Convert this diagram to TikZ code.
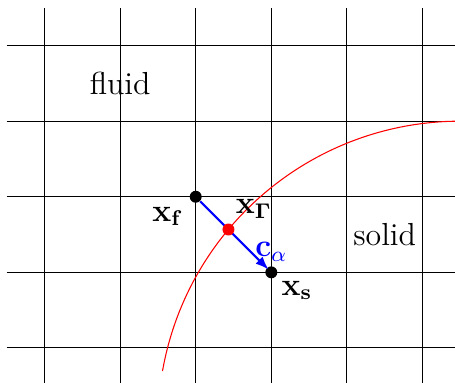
\documentclass[tikz,border=0pt]{standalone}
\usetikzlibrary{positioning,arrows.meta}
\begin{document}
\begin{tikzpicture}[x=1cm, y=1cm,
	dot/.style={shape=circle, fill, inner sep=0pt, minimum size=4.5pt},
	lbl/.style={font=\large}]
	\useasboundingbox (-0.589,-0.463) rectangle (5.430,4.603);
	% Grid:
	\foreach \i in {0,...,5} \draw (\i,-0.5) -- (\i,4.5);
	\foreach \j in {0,...,4} \draw (-0.5,\j) -- (5.5,\j);
	% Interface:
	\draw[red] (5.5,-1) ++(170:4) arc (170:90:4);
	% Points and normal:
	\node[dot] (xf) at (2,2){};
	\node[dot] (xs) at (3,1){};
	\draw[blue, thick, -{Latex[length=5pt]}, shorten >=-1pt] (xf) -- (xs);
	\node[dot, red] (xg) at (2.433,1.567){};
	% Labels:
	\node[lbl] (fluid) at (1,3.5){fluid};
	\node[lbl] (solid) at (4.5,1.5){solid};
	\node[lbl] (lxf) at (1.63,1.74){$\mathbf{x_f}$};
	\node[lbl] (lxg) at (2.77,1.84){$\mathbf{x_\Gamma}$};
	\node[lbl, text=blue] (lc) at (3.0,1.27){$\mathbf{c}_\alpha$};
	\node[lbl] (lxs) at (3.34,0.76){$\mathbf{x_s}$};
\end{tikzpicture}
\end{document}
